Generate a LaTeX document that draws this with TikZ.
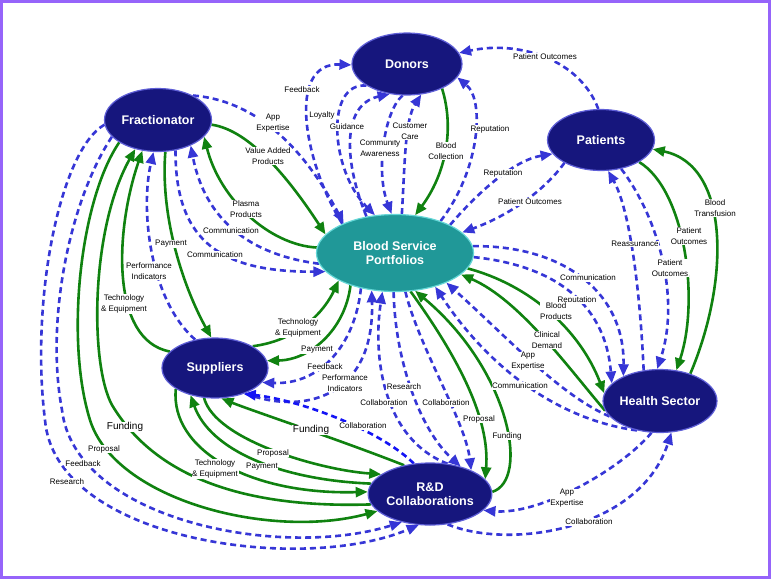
\documentclass[tikz,border=0pt]{standalone}
\usepackage{fontspec}
\setmainfont{Liberation Sans}
\usetikzlibrary{arrows.meta,shapes.geometric}
\pgfdeclarelayer{bg}
\pgfsetlayers{bg,main}
\definecolor{frame}{RGB}{150,100,250}
\definecolor{navy}{RGB}{22,22,125}
\definecolor{navyrim}{RGB}{95,95,215}
\definecolor{teal1}{RGB}{32,152,152}
\definecolor{tealrim}{RGB}{100,215,215}
\definecolor{dblue}{RGB}{54,54,214}
\definecolor{bblue}{RGB}{20,20,245}
\definecolor{dgreen}{RGB}{16,130,16}
\tikzset{
  nd/.style={ellipse, fill=navy, draw=navyrim, line width=1.2pt, inner sep=0pt,
    text=white, align=center, font=\bfseries\fontsize{12.5}{14}\selectfont},
  ndt/.style={nd, fill=teal1, draw=tealrim},
  lbl/.style={fill=white, inner sep=0.6pt, align=center, font=\fontsize{8}{10.5}\selectfont},
  big/.style={font=\fontsize{10}{12}\selectfont},
  bd/.style={draw=dblue, line width=2.6pt, dash pattern=on 6pt off 4pt,
    -{Triangle[length=12pt,width=10pt]}},
  bbd/.style={bd, draw=bblue},
  gr/.style={draw=dgreen, line width=2.6pt, -{Triangle[length=12pt,width=10pt]}}
}
\begin{document}
\begin{tikzpicture}[x=1pt,y=-1pt]
\useasboundingbox (0,0) rectangle (771,579);
% main nodes
\node[nd, minimum width=110pt, minimum height=62pt] (don) at (407,64) {Donors};
\node[nd, minimum width=107pt, minimum height=63pt] (frac) at (158,120) {Fractionator};
\node[nd, minimum width=107pt, minimum height=61pt] (pat) at (601,140) {Patients};
\node[ndt, minimum width=157pt, minimum height=77pt] (bsp) at (395,253) {Blood Service\\Portfolios};
\node[nd, minimum width=106pt, minimum height=60pt] (sup) at (215,368) {Suppliers};
\node[nd, minimum width=108pt, minimum height=63pt] (hs) at (660,401) {Health Sector};
\node[nd, minimum width=107pt, minimum height=62pt] (rd) at (430,494) {R\&D\\Collaborations};

\begin{pgfonlayer}{bg}
\fill[frame] (0,0) rectangle (771,579);
\fill[white] (3,3) rectangle (768,576);
% Donors
\draw[bd] (bsp.151) .. controls (305,165) and (285,62) .. (don.181);
\draw[bd] (don.208) .. controls (325,82) and (330,170) .. (bsp.118);
\draw[bd] (bsp.128) .. controls (345,165) and (340,105) .. (don.240);
\draw[bd] (don.262) .. controls (385,110) and (375,170) .. (bsp.95);
\draw[bd] (bsp.80) .. controls (405,160) and (405,120) .. (don.295);
\draw[gr] (don.325) .. controls (455,130) and (445,175) .. (bsp.62);
\draw[bd] (bsp.35) .. controls (480,170) and (485,100) .. (don.345);
\draw[bd] (pat.95) .. controls (580,60) and (520,40) .. (don.12);
% Patients
\draw[bd] (bsp.27) .. controls (480,190) and (515,160) .. (pat.196);
\draw[bd] (pat.212) .. controls (545,190) and (510,215) .. (bsp.17);
\draw[bd] (hs.118) .. controls (640,290) and (630,210) .. (pat.283);
\draw[bd] (pat.305) .. controls (660,220) and (680,300) .. (hs.95);
\draw[gr] (pat.330) .. controls (685,190) and (700,300) .. (hs.62);
\draw[gr] (hs.42) .. controls (730,280) and (730,165) .. (pat.350);
% BSP - Health Sector
\draw[bd] (bsp.5) .. controls (560,245) and (625,290) .. (hs.146);
\draw[bd] (bsp.357) .. controls (550,265) and (605,300) .. (hs.160);
\draw[gr] (bsp.348) .. controls (530,285) and (580,330) .. (hs.172);
\draw[gr] (hs.190) .. controls (570,370) and (520,300) .. (bsp.342);
\draw[bd] (hs.197) .. controls (560,395) and (510,340) .. (bsp.330);
\draw[bd] (hs.232) .. controls (560,420) and (490,370) .. (bsp.320);
% Health Sector - R&D
\draw[bd] (hs.255) .. controls (620,470) and (540,515) .. (rd.343);
\draw[bd] (rd.300) .. controls (510,550) and (640,530) .. (hs.290);
% BSP - R&D
\draw[bd] (rd.60) .. controls (385,440) and (372,360) .. (bsp.252);
\draw[bd] (bsp.268) .. controls (395,360) and (420,430) .. (rd.42);
\draw[bd] (bsp.285) .. controls (420,350) and (465,420) .. (rd.30);
\draw[gr] (bsp.292) .. controls (460,360) and (490,420) .. (rd.15);
\draw[gr] (rd.2) .. controls (530,480) and (510,370) .. (bsp.298);
% Suppliers - BSP
\draw[gr] (sup.30) .. controls (300,340) and (325,310) .. (bsp.206);
\draw[gr] (bsp.216) .. controls (345,330) and (310,360) .. (sup.8);
\draw[bd] (bsp.226) .. controls (355,345) and (320,385) .. (sup.343);
\draw[bd] (sup.320) .. controls (300,415) and (375,400) .. (bsp.238);
% Suppliers - R&D
\draw[bbd] (rd.118) .. controls (380,430) and (300,400) .. (sup.318);
\draw[gr] (rd.132) .. controls (340,440) and (250,410) .. (sup.282);
\draw[gr] (sup.250) .. controls (215,440) and (320,470) .. (rd.158);
\draw[gr] (rd.170) .. controls (280,480) and (210,450) .. (sup.228);
\draw[gr] (sup.208) .. controls (170,450) and (250,495) .. (rd.178);
% Fractionator - Suppliers
\draw[gr] (frac.283) .. controls (160,220) and (185,290) .. (sup.97);
\draw[bd] (sup.125) .. controls (150,300) and (140,210) .. (frac.262);
\draw[gr] (sup.160) .. controls (110,340) and (115,230) .. (frac.243);
% Fractionator - BSP
\draw[bd] (frac.35) .. controls (250,100) and (300,140) .. (bsp.150);
\draw[gr] (frac.355) .. controls (250,130) and (290,180) .. (bsp.165);
\draw[gr] (bsp.176) .. controls (270,245) and (220,200) .. (frac.340);
\draw[bd] (bsp.188) .. controls (250,255) and (205,220) .. (frac.322);
\draw[bd] (frac.300) .. controls (175,245) and (225,272) .. (bsp.195);
% Fractionator - R&D (outer)
\draw[bd] (frac.185) .. controls (60,150) and (30,300) .. (45,420) .. controls (55,540) and (300,575) .. (rd.250);
\draw[bd] (frac.200) .. controls (70,200) and (45,320) .. (62,410) .. controls (75,520) and (280,560) .. (rd.225);
\draw[gr] (frac.210) .. controls (80,200) and (65,340) .. (90,420) .. controls (115,500) and (270,540) .. (rd.198);
\draw[gr] (rd.190) .. controls (260,508) and (160,485) .. (112,405) .. controls (90,365) and (90,230) .. (frac.232);
\end{pgfonlayer}

% labels
\node[lbl] (t1) at (302,90) {Feedback};
\node[lbl] (t2) at (322,115) {Loyalty};
\node[lbl] (t3) at (347,127) {Guidance};
\node[lbl] (t4) at (380,148) {Community\\Awareness};
\node[lbl] (t5) at (410,131) {Customer\\Care};
\node[lbl] (t6) at (446,151) {Blood\\Collection};
\node[lbl] (t7) at (490,129) {Reputation};
\node[lbl] (t8) at (545,57) {Patient Outcomes};
\node[lbl] (t9) at (503,173) {Reputation};
\node[lbl] (t10) at (530,202) {Patient Outcomes};
\node[lbl] (t11) at (273,123) {App\\Expertise};
\node[lbl] (t12) at (268,156) {Value Added\\Products};
\node[lbl] (t13) at (246,209) {Plasma\\Products};
\node[lbl] (t14) at (231,231) {Communication};
\node[lbl] (t15) at (215,255) {Communication};
\node[lbl] (t16) at (171,244) {Payment};
\node[lbl] (t17) at (149,271) {Performance\\Indicators};
\node[lbl] (t18) at (124,304) {Technology\\\& Equipment};
\node[lbl] (t19) at (298,328) {Technology\\\& Equipment};
\node[lbl] (t20) at (317,350) {Payment};
\node[lbl] (t21) at (325,367) {Feedback};
\node[lbl] (t22) at (345,383) {Performance\\Indicators};
\node[lbl] (t23) at (404,387) {Research};
\node[lbl] (t24) at (384,403) {Collaboration};
\node[lbl] (t25) at (446,403) {Collaboration};
\node[lbl] (t26) at (479,419) {Proposal};
\node[lbl] (t27) at (507,436) {Funding};
\node[lbl] (t28) at (363,426) {Collaboration};
\node[lbl,big] (t29) at (311,430) {Funding};
\node[lbl] (t30) at (273,453) {Proposal};
\node[lbl] (t31) at (262,467) {Payment};
\node[lbl] (t32) at (215,469) {Technology\\\& Equipment};
\node[lbl,big] (t33) at (125,427) {Funding};
\node[lbl] (t34) at (104,449) {Proposal};
\node[lbl] (t35) at (83,464) {Feedback};
\node[lbl] (t36) at (67,482) {Research};
\node[lbl] (t37) at (567,498) {App\\Expertise};
\node[lbl] (t38) at (589,522) {Collaboration};
\node[lbl] (t39) at (588,278) {Communication};
\node[lbl] (t40) at (577,300) {Reputation};
\node[lbl] (t41) at (556,311) {Blood\\Products};
\node[lbl] (t42) at (547,340) {Clinical\\Demand};
\node[lbl] (t43) at (528,361) {App\\Expertise};
\node[lbl] (t44) at (520,386) {Communication};
\node[lbl] (t45) at (635,244) {Reassurance};
\node[lbl] (t46) at (670,268) {Patient\\Outcomes};
\node[lbl] (t47) at (689,236) {Patient\\Outcomes};
\node[lbl] (t48) at (715,208) {Blood\\Transfusion};
\end{tikzpicture}
\end{document}
